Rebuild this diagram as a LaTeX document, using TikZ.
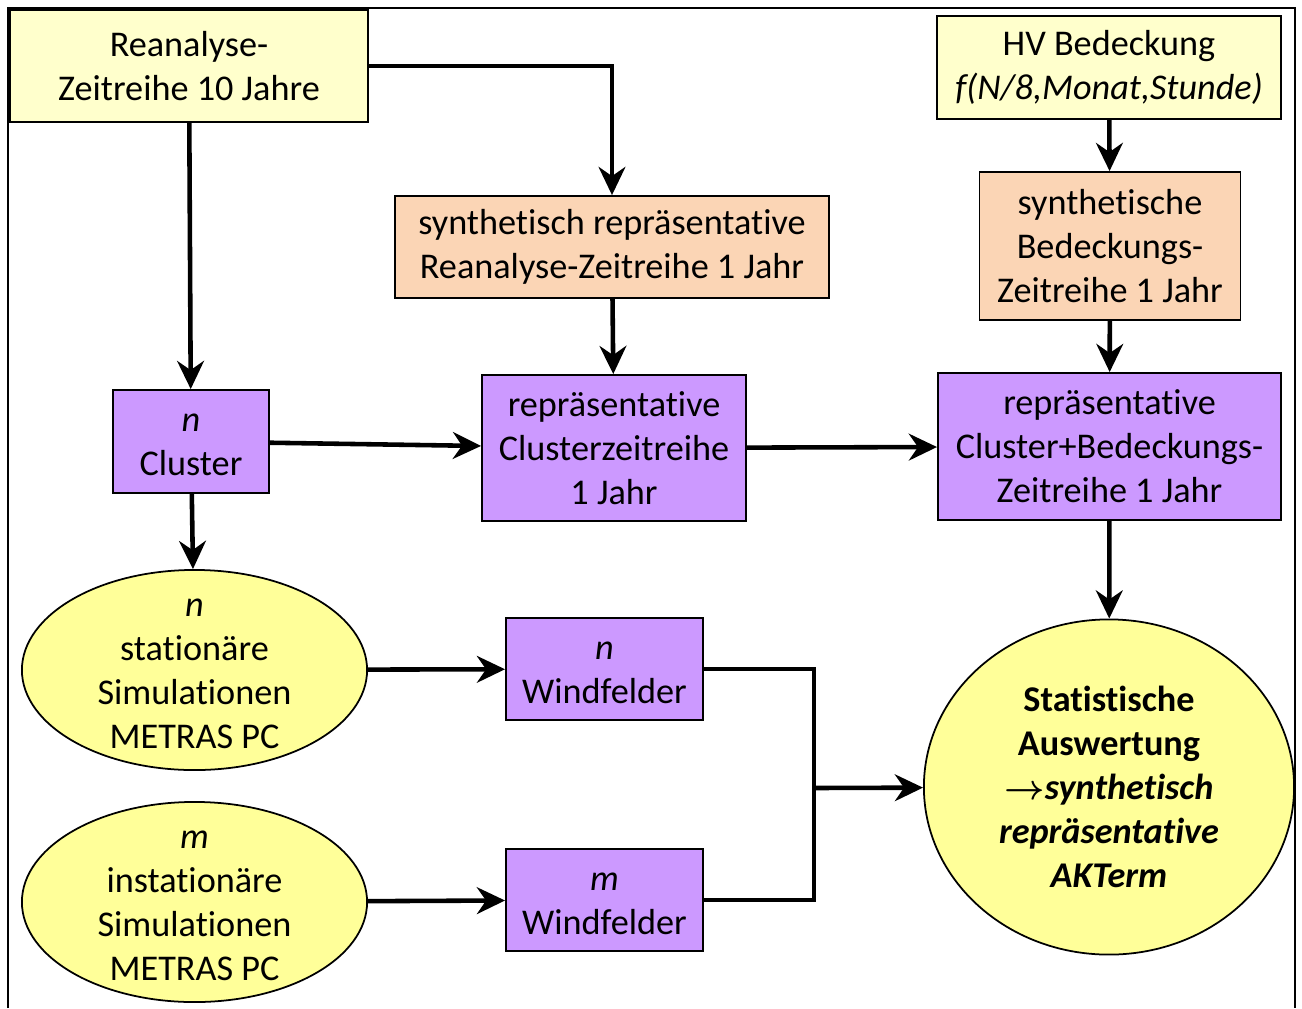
\documentclass[tikz,border=0pt]{standalone}
\usepackage{fontspec}
\setmainfont{Carlito}[Ligatures={NoCommon}]
\usetikzlibrary{shapes.geometric,arrows.meta}
\definecolor{paleyel}{HTML}{FFFFCC}
\definecolor{simyel}{HTML}{FFFF99}
\definecolor{peach}{HTML}{FBD5B5}
\definecolor{lilac}{HTML}{CC99FF}
\newcommand{\vn}[1]{\rule{0pt}{7pt}\textit{#1}}
\tikzset{
  box/.style={draw,line width=0.5pt,rectangle,inner sep=0pt,align=center},
  inbox/.style={box,fill=paleyel},
  synbox/.style={box,fill=peach},
  repbox/.style={box,fill=lilac},
  sim/.style={draw,line width=0.5pt,ellipse,fill=simyel,inner sep=0pt,align=center,
    minimum width=3.45cm,minimum height=2cm},
  txt/.style={inner sep=0pt,align=center},
}
\begin{document}
\begin{tikzpicture}[x=0.01cm,y=-0.01cm,font=\fontsize{10.3}{12.5}\selectfont]
      \useasboundingbox (0,0) rectangle (1302,1008);
      \draw[line width=0.5pt] (8,1008) -- (8,8) -- (1295,8) -- (1295,1008);
      \draw
        (189,66) node[inbox,minimum width=3.58cm,minimum height=1.12cm] (0){Reanalyse-\\Zeitreihe 10 Jahre}
        (1109,67.5) node[inbox,minimum width=3.44cm,minimum height=1.03cm] (1){HV Bedeckung\\\textit{f(N/8,Monat,Stunde)}}
        (612,247) node[synbox,minimum width=4.34cm,minimum height=1.02cm] (2){synthetisch repräsentative\\Reanalyse-Zeitreihe 1 Jahr}
        (1110,246) node[synbox,minimum width=2.61cm,minimum height=1.48cm] (3){synthetische\\Bedeckungs-\\Zeitreihe 1 Jahr}
        (191,441.5) node[repbox,minimum width=1.56cm,minimum height=1.03cm] (4){\vn{n}\\Cluster}
        (614,448) node[repbox,minimum width=2.64cm,minimum height=1.46cm] (5){repräsentative\\Clusterzeitreihe\\1 Jahr}
        (1109.5,446.5) node[repbox,minimum width=3.43cm,minimum height=1.47cm] (6){repräsentative\\Cluster+Bedeckungs-\\Zeitreihe 1 Jahr}
        (194.5,670) node[sim] (7){}
        (194.5,670) node[txt] (7t){\vn{n}\\stationäre\\Simulationen\\METRAS PC}
        (604.5,669) node[repbox,minimum width=1.97cm,minimum height=1.02cm] (8){\vn{n}\\Windfelder}
        (194.5,902) node[sim] (9){}
        (194.5,902) node[txt] (9t){\vn{m}\\instationäre\\Simulationen\\METRAS PC}
        (604.5,900) node[repbox,minimum width=1.97cm,minimum height=1.02cm] (10){\vn{m}\\Windfelder}
        (1109,787) node[sim,minimum width=3.70cm,minimum height=3.35cm,font=\fontsize{10.3}{12.5}\selectfont\bfseries] (11){Statistische\\Auswertung\\{\boldmath$\rightarrow$}\textit{synthetisch}\\\textit{repräsentative}\\\textit{AKTerm}};
      \coordinate (j) at (814,788);
      \begin{scope}[-{Stealth[length=8pt,width=7.6pt,inset=2.6pt]},line width=1.3pt]
        \draw (0) to (4);
        \draw (0) -| (2);
        \draw (1) to (3);
        \draw (2) to (5);
        \draw (3) to (6);
        \draw (4) to (5);
        \draw (5) to (6);
        \draw (4) to (7);
        \draw (6) to (11);
        \draw (7) to (8);
        \draw (9) to (10);
        \draw[-] (8) -| (j);
        \draw[-] (10) -| (j);
        \draw (j) to (11);
      \end{scope}
    \end{tikzpicture}
\end{document}
